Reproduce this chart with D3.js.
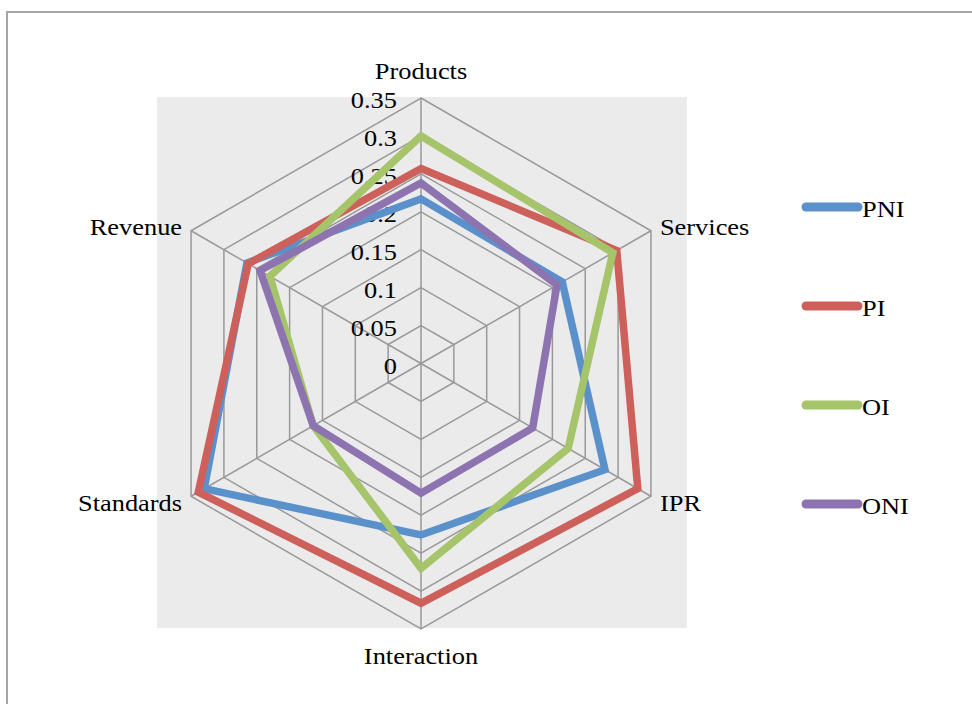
<!DOCTYPE html>
<html>
<head>
  <meta charset="utf-8">
  <title>Radar</title>
  <script src="https://cdnjs.cloudflare.com/ajax/libs/d3/7.8.5/d3.min.js"></script>
  <style>
    body { margin: 0; background: #fff; }
    svg text { font-family: "Liberation Serif", "DejaVu Serif", serif; }
  </style>
</head>
<body>
  <script>
    var axes = ["Products", "Services", "IPR", "Interaction", "Standards", "Revenue"];
    var seriesNames = ["PNI", "PI", "OI", "ONI"];
    var colors = ["#5a91cb", "#cd605a", "#a6c46a", "#8d74b0"];
    var PNI = [0.217, 0.215, 0.28, 0.226, 0.33, 0.265];
    var PI = [0.257, 0.298, 0.33, 0.316, 0.339, 0.263];
    var OI = [0.30, 0.292, 0.224, 0.27, 0.164, 0.23];
    var ONI = [0.238, 0.207, 0.17, 0.171, 0.164, 0.245];
    var ticks = [0, 0.05, 0.1, 0.15, 0.2, 0.25, 0.3, 0.35];

    var seriesValues = [PNI, PI, OI, ONI];

    var W = 972, H = 704;
    var cx = 421, cy = 363.5;
    var FS = 24, SX = 1.1; // text is drawn a little wide in the original

    var svg = d3.select("body").append("svg")
      .attr("width", W).attr("height", H);

    // outer frame
    svg.append("rect")
      .attr("x", 7).attr("y", 12)
      .attr("width", W + 20).attr("height", H + 20)
      .attr("fill", "#fff").attr("stroke", "#a6a6a6").attr("stroke-width", 2);

    // plot area
    svg.append("rect")
      .attr("x", 157).attr("y", 97)
      .attr("width", 530).attr("height", 531)
      .attr("fill", "#ebebeb");

    var r = d3.scaleLinear().domain([0, 0.35]).range([0, 265.5]);
    var angle = d3.scalePoint().domain(axes).range([0, 2 * Math.PI * 5 / 6]);

    var g = svg.append("g").attr("transform", "translate(" + cx + "," + cy + ")");

    var radial = d3.lineRadial()
      .angle(function (d) { return angle(d.axis); })
      .radius(function (d) { return r(d.value); })
      .curve(d3.curveLinearClosed);

    function pt(axis, v) {
      var a = angle(axis) - Math.PI / 2;
      return [Math.cos(a) * r(v), Math.sin(a) * r(v)];
    }

    function label(parent, x, y, anchor, txt) {
      parent.append("text")
        .attr("transform", "translate(" + x + "," + y + ") scale(" + SX + ",1)")
        .attr("text-anchor", anchor)
        .attr("dominant-baseline", "middle")
        .attr("font-size", FS)
        .text(txt);
    }

    // grid rings
    g.selectAll("path.ring").data(ticks.slice(1)).enter().append("path")
      .attr("class", "ring")
      .attr("d", function (t) {
        return radial(axes.map(function (a) { return { axis: a, value: t }; }));
      })
      .attr("fill", "none").attr("stroke", "#999").attr("stroke-width", 1.5);

    // spokes
    g.selectAll("line.spoke").data(axes).enter().append("line")
      .attr("class", "spoke")
      .attr("x1", 0).attr("y1", 0)
      .attr("x2", function (a) { return pt(a, 0.35)[0]; })
      .attr("y2", function (a) { return pt(a, 0.35)[1]; })
      .attr("stroke", "#999").attr("stroke-width", 1.5);

    // tick labels
    ticks.forEach(function (t) {
      label(g, -24, -r(t) + 5, "end", d3.format("")(t));
    });

    // series
    seriesValues.forEach(function (vals, i) {
      g.append("path")
        .attr("d", radial(axes.map(function (a, j) { return { axis: a, value: vals[j] }; })))
        .attr("fill", "none")
        .attr("stroke", colors[i])
        .attr("stroke-width", 7.5)
        .attr("stroke-linejoin", "miter");
    });

    // axis labels
    var labelPos = {
      "Products": { dx: 0, dy: -24, anchor: "middle" },
      "Services": { dx: 9, dy: -1, anchor: "start" },
      "IPR": { dx: 9, dy: 9, anchor: "start" },
      "Interaction": { dx: 0, dy: 30, anchor: "middle" },
      "Standards": { dx: -9, dy: 9, anchor: "end" },
      "Revenue": { dx: -9, dy: -1, anchor: "end" }
    };
    axes.forEach(function (a) {
      var p = pt(a, 0.35);
      label(g, p[0] + labelPos[a].dx, p[1] + labelPos[a].dy, labelPos[a].anchor, a);
    });

    // legend
    var legY = d3.scalePoint().domain(seriesNames).range([207, 504]);
    seriesNames.forEach(function (s, i) {
      var y = legY(s);
      svg.append("line")
        .attr("x1", 806).attr("x2", 858)
        .attr("y1", y).attr("y2", y)
        .attr("stroke", colors[i])
        .attr("stroke-width", 9).attr("stroke-linecap", "round");
      label(svg, 862, y + 5, "start", s);
    });
  </script>
</body>
</html>
